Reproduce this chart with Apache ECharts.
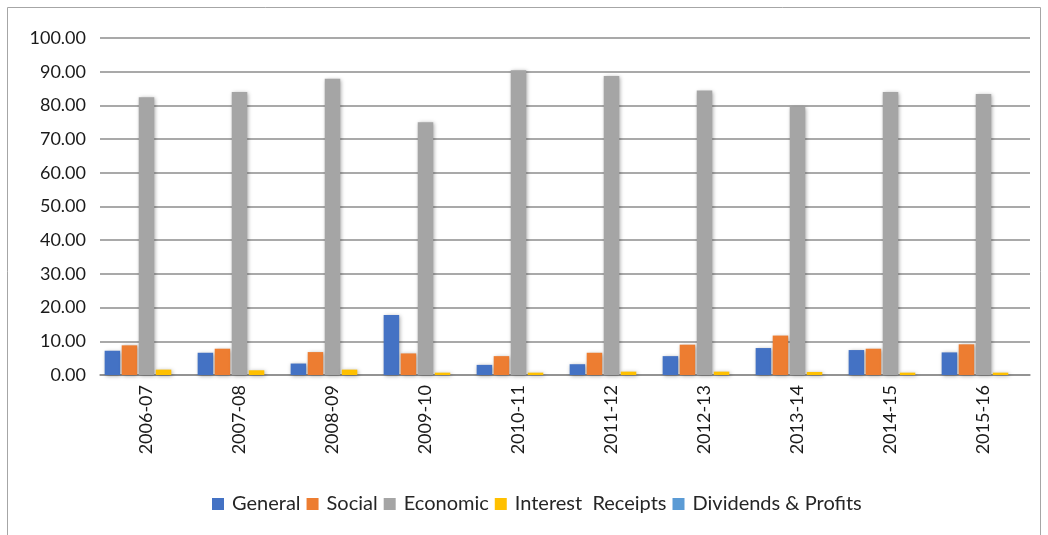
<!DOCTYPE html>
<html>
<head>
<meta charset="utf-8">
<script src="https://cdn.jsdelivr.net/npm/echarts@6/dist/echarts.min.js"></script>
<style>
  html, body { margin: 0; padding: 0; background: #fff; }
  #chart { width: 1048px; height: 535px; }
</style>
</head>
<body>
<div id="chart"></div>
<script>
// Fiscal years on the category axis
const years = ['2006-07', '2007-08', '2008-09', '2009-10', '2010-11',
               '2011-12', '2012-13', '2013-14', '2014-15', '2015-16'];

// Shares per year (%)
const general   = [7.2, 6.6, 3.4, 17.8, 3.0, 3.2, 5.6, 8.0, 7.4, 6.7];
const social    = [8.8, 7.8, 6.8, 6.4, 5.6, 6.6, 9.0, 11.7, 7.8, 9.1];
const economic  = [82.4, 84.0, 87.9, 75.0, 90.4, 88.7, 84.4, 79.6, 84.0, 83.4];
const interest  = [1.6, 1.4, 1.6, 0.7, 0.7, 1.0, 1.0, 0.9, 0.7, 0.7];
const dividends = [0, 0, 0, 0, 0, 0, 0, 0, 0, 0];

const yTicks = { min: 0, max: 100, interval: 10 };

const FONT = 'Lato, "Liberation Sans", sans-serif';

const seriesDefs = [
  { name: 'General', data: general, color: '#4472C4' },
  { name: 'Social', data: social, color: '#ED7D31' },
  { name: 'Economic', data: economic, color: '#A5A5A5' },
  { name: 'Interest  Receipts', data: interest, color: '#FFC000' },
  { name: 'Dividends & Profits', data: dividends, color: '#5B9BD5' }
];

const chart = echarts.init(document.getElementById('chart'), null, { renderer: 'canvas' });

chart.setOption({
  animation: false,
  backgroundColor: '#fff',
  graphic: [{
    type: 'rect',
    shape: { x: 7.5, y: 7.5, width: 1033, height: 540 },
    style: { fill: 'none', stroke: '#a6a6a6', lineWidth: 1 },
    silent: true
  }],
  grid: { left: 100, right: 18, top: 38, bottom: 160 },
  legend: {
    bottom: 16,
    left: 207,
    itemWidth: 12,
    itemHeight: 12,
    itemGap: 6,
    icon: 'rect',
    textStyle: { fontFamily: FONT, fontSize: 20, color: '#262626', padding: [0, 0, 0, 3] },
    data: seriesDefs.map(s => s.name)
  },
  xAxis: {
    type: 'category',
    data: years,
    axisLine: { lineStyle: { color: '#8c8c8c', width: 1.5 } },
    axisTick: { show: false },
    axisLabel: { rotate: 90, fontFamily: FONT, fontSize: 18, color: '#1a1a1a', margin: 10 }
  },
  yAxis: {
    type: 'value',
    min: yTicks.min,
    max: yTicks.max,
    interval: yTicks.interval,
    axisLine: { show: false },
    axisTick: { show: false },
    splitLine: { lineStyle: { color: '#8c8c8c', width: 1.5 } },
    axisLabel: {
      fontFamily: FONT, fontSize: 18, color: '#1a1a1a', margin: 14,
      formatter: v => v.toFixed(2)
    }
  },
  series: seriesDefs.map(s => ({
    name: s.name,
    type: 'bar',
    data: s.data,
    barGap: '10%',
    barCategoryGap: '10%',
    itemStyle: {
      color: s.color,
      shadowColor: 'rgba(0,0,0,0.35)',
      shadowBlur: 4,
      shadowOffsetX: 1,
      shadowOffsetY: 1
    }
  }))
});
</script>
</body>
</html>
